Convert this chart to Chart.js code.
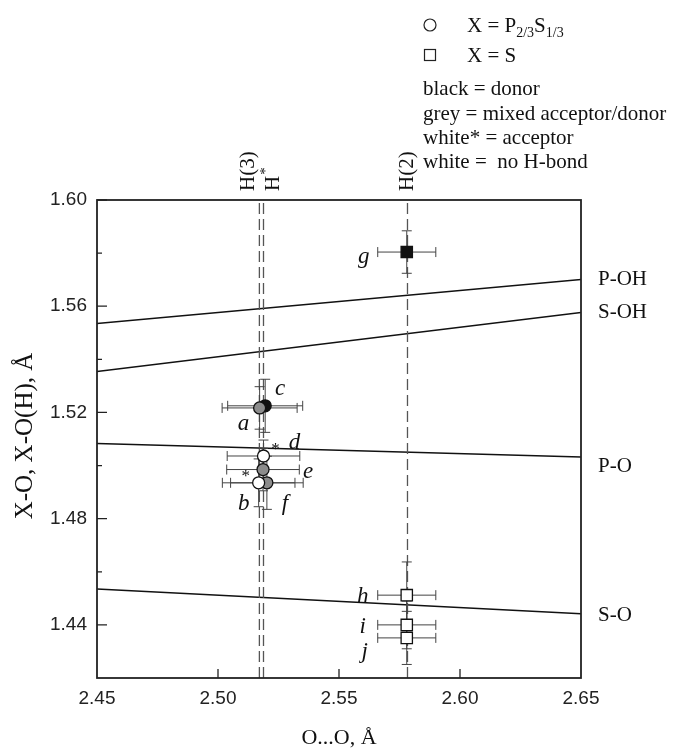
<!DOCTYPE html>
<html>
<head>
<meta charset="utf-8">
<script src="https://cdn.jsdelivr.net/npm/chart.js@4.4.0/dist/chart.umd.min.js"></script>
<style>
  html, body { margin: 0; padding: 0; background: #fff; }
</style>
</head>
<body>
<canvas id="grafico" width="673" height="750"></canvas>
<script>
// ejes
const xTicks = [2.45, 2.50, 2.55, 2.60, 2.65];
const yTicks = [1.44, 1.48, 1.52, 1.56, 1.60];
const yMinor = [1.46, 1.50, 1.54, 1.58];

// rectas de referencia (valor en 2.45 y en 2.65)
const lineNames = ['P-OH', 'S-OH', 'P-O', 'S-O'];
const lineLeft = [1.5535, 1.5354, 1.5083, 1.4535];
const lineRight = [1.5701, 1.5576, 1.5032, 1.4442];

// lineas verticales discontinuas
const hNames = ['H(3)', 'H*', 'H(2)'];
const hPos = [2.5171, 2.5188, 2.5783];

// puntos (en orden de dibujo)
const ptLabels = ['c', 'e', 'f', 'a', 'b', 'd', 'g', 'j', 'i', 'h'];
const ptOO = [2.5195, 2.5186, 2.5202, 2.5172, 2.5168, 2.5188, 2.5780, 2.5780, 2.5780, 2.5780];
const ptXO = [1.5225, 1.4985, 1.4935, 1.5217, 1.4935, 1.5036, 1.5804, 1.4351, 1.4400, 1.4512];
const ptErrOO = [0.0155, 0.0150, 0.0150, 0.0155, 0.0150, 0.0150, 0.0120, 0.0120, 0.0120, 0.0120];
const ptErrXO = [0.0100, 0.0080, 0.0100, 0.0080, 0.0090, 0.0060, 0.0080, 0.0100, 0.0090, 0.0125];
const ptKind = ['PS', 'PS', 'PS', 'PS', 'PS', 'PS', 'S', 'S', 'S', 'S'];
const ptRole = ['donor', 'mixed', 'mixed', 'mixed', 'acceptor', 'acceptor', 'donor', 'none', 'none', 'none'];

// estilos
const SERIF = '"Liberation Serif", "Times New Roman", serif';
const SANS = '"Liberation Sans", Arial, sans-serif';
const roleColor = { donor: '#111', mixed: '#8c8c8c', acceptor: '#fff', none: '#fff' };
const labelOffset = { a: [-16, 16], b: [-15, 21], c: [15, -17], d: [31, -13], e: [45, 2],
  f: [18, 21], g: [-43, 5], h: [-44, 2], i: [-44, 2], j: [-42, 14] };
const starOffset = { b: [-13, -6], d: [12, -6] };
const lineLabelDy = [0, 0, 9, 2];

const datasets = [];
lineNames.forEach((n, i) => {
  datasets.push({
    label: n,
    data: [{ x: xTicks[0], y: lineLeft[i] }, { x: xTicks[xTicks.length - 1], y: lineRight[i] }],
    showLine: true, borderColor: '#111', borderWidth: 1.5, pointRadius: 0, order: 3
  });
});
hNames.forEach((n, i) => {
  datasets.push({
    label: n,
    data: [{ x: hPos[i], y: 1.42 }, { x: hPos[i], y: 1.60 }],
    showLine: true, borderColor: '#555', borderWidth: 1.3, borderDash: [11, 5], pointRadius: 0, order: 2
  });
});
const IDX_PUNTOS = datasets.length;
datasets.push({
  label: 'puntos',
  data: ptOO.map((x, i) => ({ x, y: ptXO[i] })),
  pointStyle: ptKind.map(k => k === 'S' ? 'rect' : 'circle'),
  pointRadius: ptKind.map(k => k === 'S' ? 8 : 6),
  backgroundColor: ptRole.map(r => roleColor[r]),
  borderColor: '#111',
  borderWidth: 1.3,
  order: 1
});

const extras = {
  id: 'extras',
  beforeDatasetDraw(chart, args) {
    if (args.index !== IDX_PUNTOS) return;
    const { ctx, scales: { x, y } } = chart;
    ctx.save();
    ctx.strokeStyle = '#444';
    ctx.lineWidth = 1;
    ptOO.forEach((oo, i) => {
      const px = x.getPixelForValue(oo), py = y.getPixelForValue(ptXO[i]);
      const x1 = x.getPixelForValue(oo - ptErrOO[i]), x2 = x.getPixelForValue(oo + ptErrOO[i]);
      const y1 = y.getPixelForValue(ptXO[i] + ptErrXO[i]), y2 = y.getPixelForValue(ptXO[i] - ptErrXO[i]);
      ctx.beginPath();
      ctx.moveTo(x1, py); ctx.lineTo(x2, py);
      ctx.moveTo(x1, py - 5); ctx.lineTo(x1, py + 5);
      ctx.moveTo(x2, py - 5); ctx.lineTo(x2, py + 5);
      ctx.moveTo(px, y1); ctx.lineTo(px, y2);
      ctx.moveTo(px - 5, y1); ctx.lineTo(px + 5, y1);
      ctx.moveTo(px - 5, y2); ctx.lineTo(px + 5, y2);
      ctx.stroke();
    });
    ctx.restore();
  },
  afterDatasetsDraw(chart) {
    const { ctx, chartArea: a, scales: { x, y } } = chart;
    ctx.save();
    // marco
    ctx.strokeStyle = '#222';
    ctx.lineWidth = 1.8;
    ctx.strokeRect(a.left, a.top, a.right - a.left, a.bottom - a.top);
    // ticks hacia dentro
    ctx.lineWidth = 1.3;
    ctx.beginPath();
    yTicks.forEach(v => { const p = y.getPixelForValue(v); ctx.moveTo(a.left, p); ctx.lineTo(a.left + 10, p); });
    yMinor.forEach(v => { const p = y.getPixelForValue(v); ctx.moveTo(a.left, p); ctx.lineTo(a.left + 5, p); });
    xTicks.slice(1, -1).forEach(v => { const p = x.getPixelForValue(v); ctx.moveTo(p, a.bottom); ctx.lineTo(p, a.bottom - 9); });
    ctx.stroke();

    ctx.fillStyle = '#111';
    // etiquetas de puntos
    ctx.font = 'italic 23px ' + SERIF;
    ctx.textAlign = 'center';
    ctx.textBaseline = 'middle';
    ptLabels.forEach((l, i) => {
      const o = labelOffset[l];
      ctx.fillText(l, x.getPixelForValue(ptOO[i]) + o[0], y.getPixelForValue(ptXO[i]) + o[1]);
    });
    ctx.font = '17px ' + SERIF;
    ptLabels.forEach((l, i) => {
      const o = starOffset[l];
      if (o) ctx.fillText('*', x.getPixelForValue(ptOO[i]) + o[0], y.getPixelForValue(ptXO[i]) + o[1]);
    });

    // nombres de las rectas
    ctx.font = '21px ' + SERIF;
    ctx.textAlign = 'left';
    lineNames.forEach((n, i) => {
      ctx.fillText(n, a.right + 17, y.getPixelForValue(lineRight[i]) + lineLabelDy[i]);
    });

    // etiquetas verticales H
    const hDx = [-11, 10, 0];
    hNames.forEach((n, i) => {
      ctx.save();
      ctx.translate(x.getPixelForValue(hPos[i]) + hDx[i], a.top - 9);
      ctx.rotate(-Math.PI / 2);
      ctx.font = '21px ' + SERIF;
      ctx.textAlign = 'left';
      ctx.textBaseline = 'middle';
      if (n === 'H*') {
        ctx.fillText('H', 0, 0);
        const w = ctx.measureText('H').width;
        ctx.font = '15px ' + SERIF;
        ctx.fillText('*', w + 1, -7);
      } else {
        ctx.fillText(n, 0, 0);
      }
      ctx.restore();
    });

    // titulos de ejes
    ctx.font = '22px ' + SERIF;
    ctx.textAlign = 'center';
    ctx.fillText('O...O, Å', (a.left + a.right) / 2, 738);
    ctx.save();
    ctx.translate(25, 436);
    ctx.rotate(-Math.PI / 2);
    ctx.font = '25px ' + SERIF;
    ctx.fillText('X-O, X-O(H), Å', 0, 0);
    ctx.restore();

    // leyenda
    ctx.strokeStyle = '#222';
    ctx.lineWidth = 1.2;
    ctx.beginPath();
    ctx.arc(430, 25, 6, 0, Math.PI * 2);
    ctx.stroke();
    ctx.strokeRect(424.5, 49.5, 11, 11);
    ctx.textAlign = 'left';
    ctx.textBaseline = 'alphabetic';
    let cx = 467;
    const sub = (t, big) => {
      ctx.font = (big ? '21px ' : '14px ') + SERIF;
      ctx.fillText(t, cx, big ? 32 : 37);
      cx += ctx.measureText(t).width;
    };
    sub('X = P', true); sub('2/3', false); sub('S', true); sub('1/3', false);
    ctx.font = '21px ' + SERIF;
    ctx.fillText('X = S', 467, 62);
    ctx.fillText('black = donor', 423, 95);
    ctx.fillText('grey = mixed acceptor/donor', 423, 120);
    ctx.fillText('white* = acceptor', 423, 144);
    ctx.fillText('white =  no H-bond', 423, 168);
    ctx.restore();
  }
};

new Chart(document.getElementById('grafico'), {
  type: 'scatter',
  data: { datasets },
  options: {
    responsive: false,
    animation: false,
    events: [],
    layout: { padding: { top: 200, right: 92, left: 0, bottom: 0 } },
    plugins: { legend: { display: false }, tooltip: { enabled: false } },
    scales: {
      x: {
        type: 'linear', min: 2.45, max: 2.65,
        afterBuildTicks: s => { s.ticks = xTicks.map(v => ({ value: v })); },
        afterFit: s => { s.height = 72; },
        ticks: { callback: v => v.toFixed(2), font: { family: SANS, size: 19 }, color: '#222', padding: 9, maxRotation: 0 },
        grid: { display: false, drawTicks: false },
        border: { display: false }
      },
      y: {
        type: 'linear', min: 1.42, max: 1.60,
        afterBuildTicks: s => { s.ticks = yTicks.map(v => ({ value: v })); },
        afterFit: s => { s.width = 97; },
        ticks: { callback: v => v.toFixed(2), font: { family: SANS, size: 19 }, color: '#222', padding: 10 },
        grid: { display: false, drawTicks: false },
        border: { display: false }
      }
    }
  },
  plugins: [extras]
});
</script>
</body>
</html>
